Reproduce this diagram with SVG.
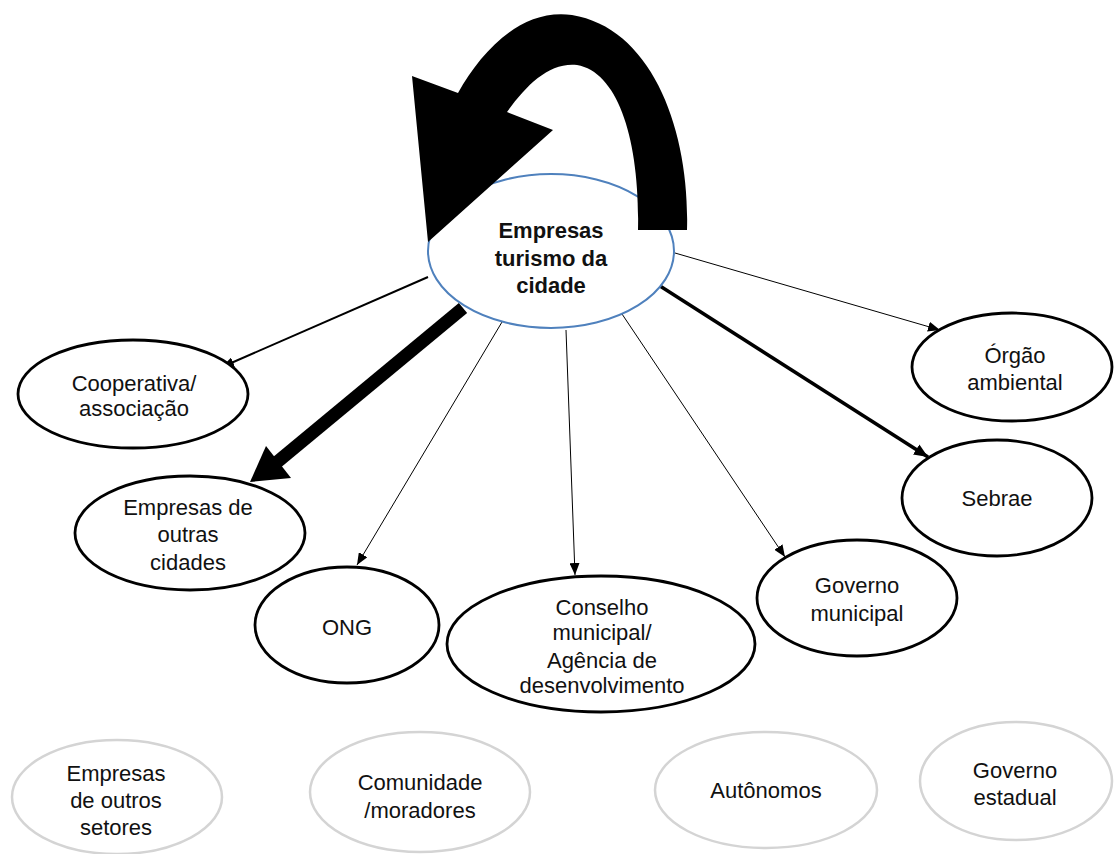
<svg xmlns="http://www.w3.org/2000/svg" width="1114" height="854" viewBox="0 0 1114 854">
<defs>
<style>
.n ellipse{fill:#fff;stroke:#000;stroke-width:2.8}
.g ellipse{fill:#fff;stroke:#d4d4d4;stroke-width:2.5}
.c ellipse{fill:#fff;stroke:#4f81bd;stroke-width:2}
text{font-family:"Liberation Sans",Arial,sans-serif;font-size:22px;fill:#111;text-anchor:middle}
.c text{font-weight:bold}
.e line{stroke:#000;fill:none}
</style>
<marker id="ah" viewBox="0 0 12 10" refX="12" refY="5" markerWidth="12" markerHeight="10" markerUnits="userSpaceOnUse" orient="auto">
<path d="M0,0 L12,5 L0,10 Z" fill="#000"/>
</marker>
<marker id="ahb" viewBox="0 0 14 12" refX="14" refY="6" markerWidth="14" markerHeight="12" markerUnits="userSpaceOnUse" orient="auto">
<path d="M0,0 L14,6 L0,12 Z" fill="#000"/>
</marker>
</defs>
<rect width="1114" height="854" fill="#fff"/>

<g id="edges" class="e">
<line x1="428" y1="277" x2="222" y2="367" stroke-width="2" marker-end="url(#ah)"/>
<line x1="463" y1="308" x2="276" y2="463" stroke-width="13"/>
<polygon points="250,482 266,446 291,478" fill="#000"/>
<line x1="502" y1="322" x2="357" y2="565" stroke-width="1" marker-end="url(#ah)"/>
<line x1="566" y1="330" x2="575" y2="575" stroke-width="1" marker-end="url(#ah)"/>
<line x1="622" y1="314" x2="785" y2="557" stroke-width="1" marker-end="url(#ah)"/>
<line x1="660" y1="286" x2="928" y2="457" stroke-width="3.5" marker-end="url(#ahb)"/>
<line x1="675" y1="253" x2="940" y2="330" stroke-width="1" marker-end="url(#ah)"/>
</g>

<g id="center" class="c">
<ellipse cx="551" cy="251" rx="123" ry="77"/>
<text x="551" y="238">Empresas</text>
<text x="551" y="266">turismo da</text>
<text x="551" y="293">cidade</text>
</g>

<g id="loop">
<path d="M687,230 C690,130 652,28 572,15 C522,8 482,50 458,93 L412,76 L428,242 L553,130 L507,112 C527,84 550,62 577,65 C618,72 640,140 638,230 Z" fill="#000"/>
</g>

<g id="cooperativa" class="n">
<ellipse cx="133" cy="394" rx="115" ry="54"/>
<text x="134" y="391">Cooperativa/</text>
<text x="134" y="416">associação</text>
</g>

<g id="empresas-outras-cidades" class="n">
<ellipse cx="190" cy="533" rx="115" ry="57"/>
<text x="188" y="515">Empresas de</text>
<text x="188" y="542">outras</text>
<text x="188" y="570">cidades</text>
</g>

<g id="ong" class="n">
<ellipse cx="347" cy="625" rx="92" ry="58"/>
<text x="347" y="635">ONG</text>
</g>

<g id="conselho" class="n">
<ellipse cx="601" cy="644" rx="154" ry="68"/>
<text x="602" y="615">Conselho</text>
<text x="602" y="640">municipal/</text>
<text x="602" y="668">Agência de</text>
<text x="602" y="693">desenvolvimento</text>
</g>

<g id="governo-municipal" class="n">
<ellipse cx="857" cy="598" rx="100" ry="58"/>
<text x="857" y="593">Governo</text>
<text x="857" y="621">municipal</text>
</g>

<g id="sebrae" class="n">
<ellipse cx="997" cy="498" rx="95" ry="58"/>
<text x="997" y="506">Sebrae</text>
</g>

<g id="orgao-ambiental" class="n">
<ellipse cx="1012" cy="367" rx="100" ry="54"/>
<text x="1015" y="363">Órgão</text>
<text x="1015" y="390">ambiental</text>
</g>

<g id="empresas-outros-setores" class="g">
<ellipse cx="117" cy="797" rx="105" ry="57"/>
<text x="116" y="781">Empresas</text>
<text x="116" y="808">de outros</text>
<text x="116" y="835">setores</text>
</g>

<g id="comunidade" class="g">
<ellipse cx="420" cy="792" rx="110" ry="60"/>
<text x="420" y="790">Comunidade</text>
<text x="420" y="818">/moradores</text>
</g>

<g id="autonomos" class="g">
<ellipse cx="766" cy="790" rx="111" ry="58"/>
<text x="766" y="798">Autônomos</text>
</g>

<g id="governo-estadual" class="g">
<ellipse cx="1016" cy="781" rx="96" ry="59"/>
<text x="1015" y="778">Governo</text>
<text x="1015" y="805">estadual</text>
</g>
</svg>
